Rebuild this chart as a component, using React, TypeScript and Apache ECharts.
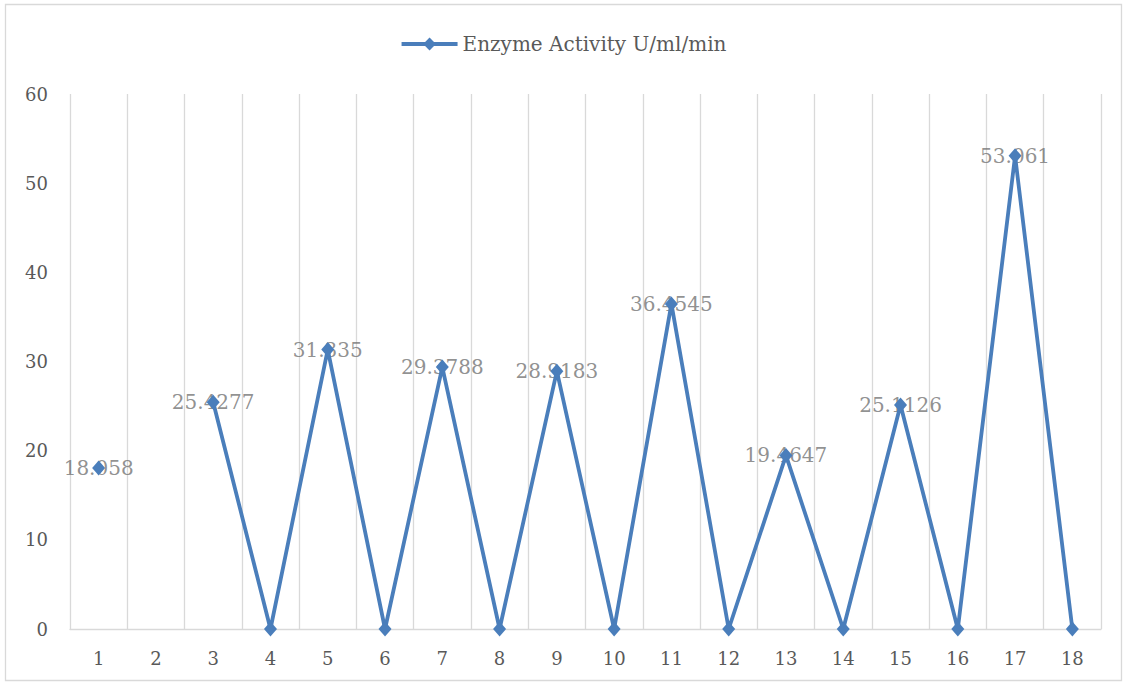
import React, { useEffect, useRef } from "react";
import * as echarts from "echarts";

// Sample numbers along the x axis and the measured activity per sample
const categories = ["1", "2", "3", "4", "5", "6", "7", "8", "9", "10", "11", "12", "13", "14", "15", "16", "17", "18"];
const activity: (number | null)[] = [18.058, null, 25.4277, 0, 31.335, 0, 29.3788, 0, 28.9183, 0, 36.4545, 0, 19.4647, 0, 25.1126, 0, 53.061, 0];
const yTicks = { min: 0, max: 60, interval: 10 };

const seriesName = "Enzyme Activity U/ml/min";
const lineColor = "#4A7EBB";
const textColor = "#595959";
const labelColor = "#747474";
const gridColor = "#D9D9D9";
const fontFamily = "'DejaVu Serif', 'Liberation Serif', serif";

export default function App() {
  const ref = useRef<HTMLDivElement>(null);

  useEffect(() => {
    document.body.style.margin = "0";
    if (!ref.current) return;
    const chart = echarts.init(ref.current, null, { renderer: "svg" });
    chart.setOption({
      animation: false,
      backgroundColor: "#ffffff",
      textStyle: { fontFamily },
      graphic: [
        {
          type: "rect",
          shape: { x: 5.5, y: 4.5, width: 1116, height: 676 },
          style: { fill: "none", stroke: gridColor, lineWidth: 1.3 },
          silent: true,
          z: -1,
        },
      ],
      legend: {
        top: 29,
        left: "center",
        itemWidth: 56,
        itemHeight: 16,
        itemGap: 6,
        data: [seriesName],
        lineStyle: { width: 4 },
        textStyle: { color: textColor, fontSize: 20, fontFamily },
      },
      grid: { left: 70, right: 25, top: 94, bottom: 55, containLabel: false },
      xAxis: {
        type: "category",
        data: categories,
        boundaryGap: true,
        axisLine: { show: true, lineStyle: { color: gridColor, width: 1.3 } },
        axisTick: { show: false },
        axisLabel: { color: textColor, fontSize: 18, fontFamily, margin: 20, interval: 0 },
        splitLine: { show: true, interval: 0, lineStyle: { color: gridColor, width: 1.3 } },
      },
      yAxis: {
        type: "value",
        min: yTicks.min,
        max: yTicks.max,
        interval: yTicks.interval,
        axisLine: { show: false },
        axisTick: { show: false },
        axisLabel: { color: textColor, fontSize: 18, fontFamily, margin: 22 },
        splitLine: { show: false },
      },
      series: [
        {
          // value labels, drawn beneath the line and markers
          name: "labels",
          type: "scatter",
          data: activity,
          z: 1,
          symbol: "circle",
          symbolSize: 1,
          itemStyle: { color: "rgba(0,0,0,0)" },
          silent: true,
          legendHoverLink: false,
          label: {
            show: true,
            position: "inside",
            color: labelColor,
            fontSize: 20,
            fontFamily,
            formatter: (p: any) => (p.value ? String(p.value) : ""),
          },
        },
        {
          name: seriesName,
          type: "line",
          data: activity,
          z: 3,
          connectNulls: false,
          symbol: "diamond",
          symbolSize: [13, 15],
          showAllSymbol: true,
          itemStyle: { color: lineColor },
          lineStyle: { color: lineColor, width: 3.8 },
        },
      ],
    });
    return () => chart.dispose();
  }, []);

  return <div ref={ref} style={{ width: 1126, height: 684 }} />;
}
